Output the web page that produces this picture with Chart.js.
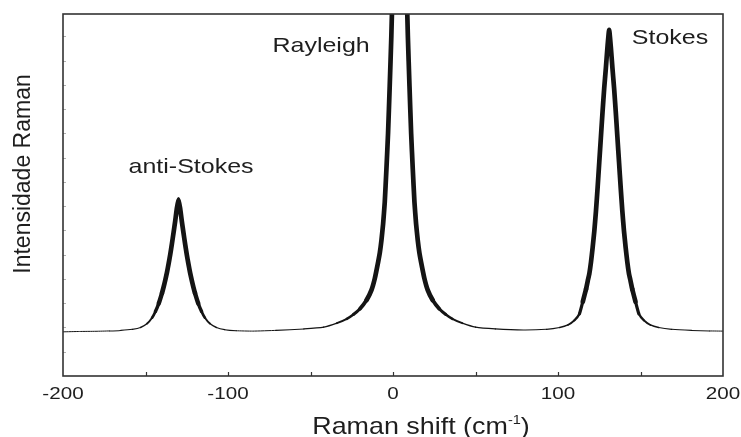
<!DOCTYPE html>
<html>
<head>
<meta charset="utf-8">
<script src="https://cdn.jsdelivr.net/npm/chart.js@4.4.0/dist/chart.umd.min.js"></script>
<style>
  html, body { margin: 0; padding: 0; background: #fff; }
</style>
</head>
<body>
<canvas id="chart" width="741" height="437"></canvas>
<script>
// Raman shift (cm-1)
const shiftX = [
  -200, -190, -180, -172, -165, -158, -153, -149, -146, -144, -142, -140, -139, -138, -137,
  -136, -135, -134, -133, -132, -131, -130, -129, -128, -127, -126, -125, -124, -123, -122,
  -121, -120, -118, -116, -114, -111, -107, -102, -95, -85, -71, -54, -42, -34, -28,
  -24, -20, -16, -13, -11, -9, -8, -7, -6, -5, -4, -3, -2, -1, 0,
  1, 2, 3, 4, 5, 6, 7, 8, 9, 10, 11, 12, 13, 14, 15,
  16, 17, 19, 21, 24, 28, 32, 36, 42, 50, 62, 79, 93, 101, 106,
  110, 113, 115, 117, 118, 119, 120, 121, 122, 123, 124, 125, 126, 127, 128,
  129, 130, 131, 132, 133, 134, 135, 136, 137, 138, 139, 140, 141, 142, 143,
  144, 145, 147, 149, 152, 156, 161, 169, 181, 192, 200
];
// intensity (arb. units, 0-100 is the visible window; Rayleigh goes off-scale)
const intensity = [
  12.2, 12.3, 12.35, 12.45, 12.6, 12.9, 13.4, 14.5, 16.1, 17.8, 20.0, 22.9, 24.6, 26.5, 28.6,
  31.0, 33.6, 36.5, 39.6, 42.8, 46.3, 48.8, 46.3, 42.8, 39.6, 36.5, 33.6, 31.0, 28.6, 26.5,
  24.6, 22.9, 20.0, 17.8, 16.1, 14.5, 13.4, 12.8, 12.5, 12.4, 12.6, 13.0, 13.5, 14.6, 15.8,
  17.0, 18.6, 21.0, 23.8, 27.0, 31.5, 34.0, 37.5, 42.0, 48.0, 57.0, 67.0, 80.0, 94.0, 112,
  133, 158, 180, 195, 180, 158, 133, 112, 94, 80, 67, 57, 48, 42, 37.5,
  34, 31.5, 27, 23.8, 21, 18.6, 17, 15.8, 14.6, 13.5, 13.0, 12.7, 12.9, 13.4, 14.1,
  15.4, 17.2, 20.5, 24.0, 26.2, 28.3, 31.5, 35.5, 40.0, 45.5, 52.0, 59.0, 66.0, 73.0, 79.5,
  85.0, 91.0, 95.6, 91.0, 85.0, 79.5, 73.0, 66.0, 59.0, 52.0, 45.5, 40.0, 35.5, 31.5, 28.3,
  26.2, 24.0, 20.5, 17.2, 15.4, 14.1, 13.4, 12.9, 12.6, 12.45, 12.4
];

const xTickLabels = [-200, -100, 0, 100, 200];
const peakNames = ['anti-Stokes', 'Rayleigh', 'Stokes'];
const peakLabelX = [-122.4, -43.6, 167.9];
const peakLabelY = [56, 89.6, 91.6];

const FONT = "'Liberation Sans', Arial, Helvetica, sans-serif";
const INK = '#1e1e1e';

function stretchedText(ctx, text, cx, by, size, sx) {
  ctx.save();
  ctx.font = size + 'px ' + FONT;
  ctx.translate(cx, by);
  ctx.scale(sx, 1);
  ctx.textAlign = 'center';
  ctx.textBaseline = 'alphabetic';
  ctx.fillText(text, 0, 0);
  ctx.restore();
}

const decorations = {
  id: 'decorations',
  afterDraw(chart) {
    const { ctx, chartArea: a, scales: { x, y } } = chart;
    ctx.save();

    // small inward ticks
    ctx.strokeStyle = '#333';
    ctx.lineWidth = 1.2;
    x.ticks.forEach(t => {
      if (t.value <= x.min || t.value >= x.max) return;
      const px = Math.round(x.getPixelForValue(t.value)) + 0.5;
      ctx.beginPath();
      ctx.moveTo(px, a.bottom);
      ctx.lineTo(px, a.bottom - 4);
      ctx.stroke();
    });
    ctx.strokeStyle = '#b0b0b0';
    ctx.lineWidth = 1;
    y.ticks.forEach(t => {
      if (t.value <= y.min || t.value >= y.max) return;
      const py = Math.round(y.getPixelForValue(t.value)) + 0.5;
      ctx.beginPath();
      ctx.moveTo(a.left, py);
      ctx.lineTo(a.left + 3, py);
      ctx.stroke();
    });

    // frame
    ctx.strokeStyle = '#333';
    ctx.lineWidth = 1.6;
    ctx.strokeRect(a.left, a.top, a.right - a.left, a.bottom - a.top);

    ctx.fillStyle = INK;
    // x tick labels
    x.ticks.forEach(t => {
      if (!xTickLabels.includes(t.value)) return;
      stretchedText(ctx, String(t.value), x.getPixelForValue(t.value), a.bottom + 22.5, 16.5, 1.25);
    });

    // peak labels
    peakNames.forEach((name, i) => {
      stretchedText(ctx, name, x.getPixelForValue(peakLabelX[i]), y.getPixelForValue(peakLabelY[i]), 21, 1.19);
    });

    // x title with superscript
    const main = 'Raman shift (cm', sup = '-1', close = ')';
    ctx.font = '24px ' + FONT;
    const w1 = ctx.measureText(main).width;
    const w3 = ctx.measureText(close).width;
    ctx.font = '13px ' + FONT;
    const w2 = ctx.measureText(sup).width;
    const start = -(w1 + w2 + w3) / 2;
    ctx.save();
    ctx.translate((a.left + a.right) / 2 + 28, 434);
    ctx.scale(1.12, 1);
    ctx.textAlign = 'left';
    ctx.textBaseline = 'alphabetic';
    ctx.font = '24px ' + FONT;
    ctx.fillText(main, start, 0);
    ctx.fillText(close, start + w1 + w2, 0);
    ctx.font = '13px ' + FONT;
    ctx.fillText(sup, start + w1, -10);
    ctx.restore();

    // y title
    ctx.save();
    ctx.translate(24, 174);
    ctx.rotate(-Math.PI / 2);
    ctx.font = '23px ' + FONT;
    ctx.textAlign = 'center';
    ctx.textBaseline = 'middle';
    ctx.fillText('Intensidade Raman', 0, 0);
    ctx.restore();

    ctx.restore();
  }
};

const points = shiftX.map((v, i) => ({ x: v, y: intensity[i] }));

new Chart(document.getElementById('chart'), {
  type: 'line',
  data: {
    datasets: [{
      data: points,
      borderColor: '#141414',
      borderWidth: 1.2,
      borderCapStyle: 'round',
      borderJoinStyle: 'round',
      pointRadius: 0,
      tension: 0.15,
      fill: false,
      clip: 0,
      segment: {
        // thin baseline, heavy stroke on the peaks like the original scan
        borderWidth: c => {
          const lo = Math.min(intensity[c.p0DataIndex], intensity[c.p1DataIndex]);
          return 1 + Math.max(0, Math.min(3.7, (lo - 12.4) * 0.45));
        }
      }
    }]
  },
  options: {
    responsive: false,
    animation: false,
    events: [],
    layout: { padding: { top: 14, right: 18, left: 0, bottom: 0 } },
    plugins: { legend: { display: false }, tooltip: { enabled: false } },
    scales: {
      x: {
        type: 'linear',
        min: -200,
        max: 200,
        ticks: { display: false, stepSize: 50 },
        grid: { display: false },
        border: { display: false },
        afterFit: s => { s.height = 61; }
      },
      y: {
        min: 0,
        max: 100,
        ticks: { display: false, stepSize: 6.7 },
        grid: { display: false },
        border: { display: false },
        afterFit: s => { s.width = 63; }
      }
    }
  },
  plugins: [decorations]
});
</script>
</body>
</html>
